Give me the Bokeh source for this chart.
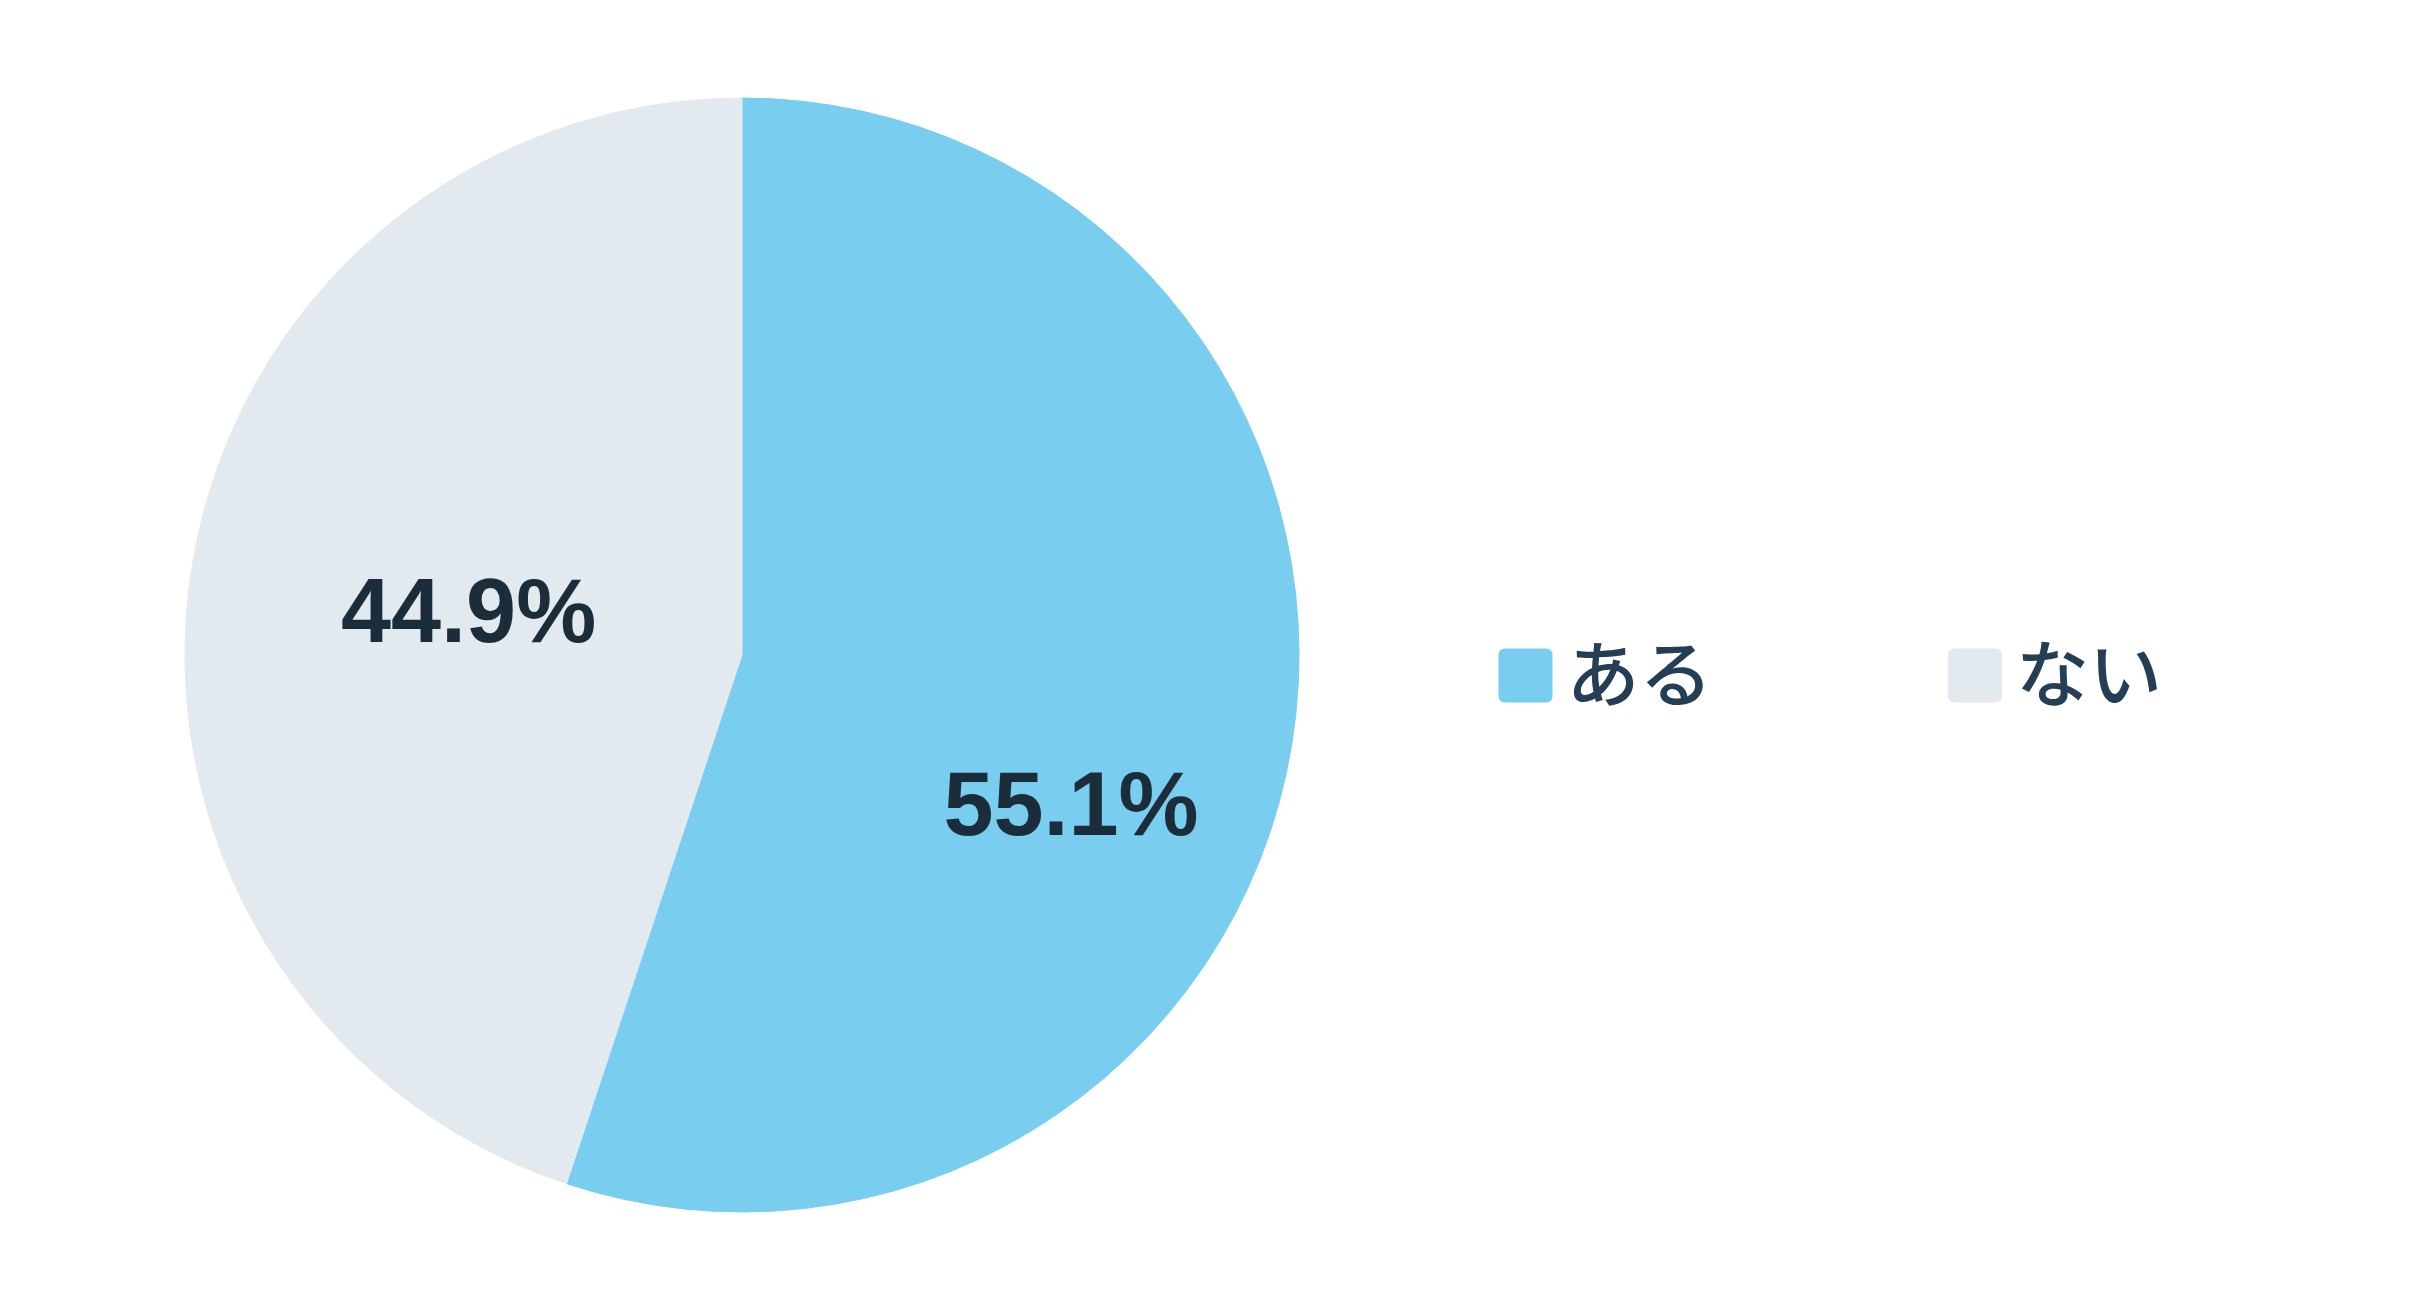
import math
from bokeh.plotting import figure
from bokeh.models import Range1d, ColumnDataSource
from bokeh.core.properties import value
from bokeh.embed import file_html
from bokeh.resources import INLINE

categories = ["ある", "ない"]
shares = [55.1, 44.9]
colors = ["#79CDEF", "#E2EAEF"]

W, H = 2401, 1274
cx, cy, R = 741.5, 619.5, 557
label_r = [361, 277]
label_ang = [-24.3, 170.8]

p = figure(width=W, height=H, output_backend="svg", toolbar_location=None,
           x_range=Range1d(0, W), y_range=Range1d(0, H), min_border=0,
           outline_line_color=None)
p.axis.visible = False
p.grid.visible = False
p.background_fill_color = "white"
p.border_fill_color = "white"

total = sum(shares)
start = math.pi / 2
starts, ends = [], []
for s in shares:
    a = s / total * 2 * math.pi
    starts.append(start)
    ends.append(start - a)
    start -= a

src = ColumnDataSource(dict(x=[cx]*len(shares), y=[cy]*len(shares), s=starts, e=ends, c=colors))
p.wedge(x="x", y="y", radius=R, start_angle="e", end_angle="s", direction="anticlock",
        fill_color="c", line_color="c", line_width=1, source=src)

lx = [cx + r * math.cos(math.radians(a)) for r, a in zip(label_r, label_ang)]
ly = [cy + r * math.sin(math.radians(a)) for r, a in zip(label_r, label_ang)]
p.text(x=lx, y=ly, text=[f"{v:.1f}%" for v in shares], text_font=value("Liberation Sans"),
       text_font_style="bold", text_font_size="90px", text_align="center",
       text_baseline="middle", text_color="#1B2D3B")

# legend
leg_x0, leg_dx, leg_y, sq = 1525, 449.5, 599, 54
sx = [leg_x0 + i * leg_dx for i in range(len(categories))]
p.quad(left=[x - sq/2 for x in sx], right=[x + sq/2 for x in sx],
       bottom=[leg_y - sq/2]*len(sx), top=[leg_y + sq/2]*len(sx),
       fill_color=colors, line_color=None, border_radius=6)
p.text(x=[x + 41 for x in sx], y=[leg_y + 7]*len(sx), text=categories,
       text_font=value("'Noto Sans CJK JP Medium', 'Noto Sans CJK JP'"), text_font_size="73px",
       text_align="left", text_baseline="middle", text_color="#243F55")

open("out.html", "w").write(file_html(p, INLINE))
